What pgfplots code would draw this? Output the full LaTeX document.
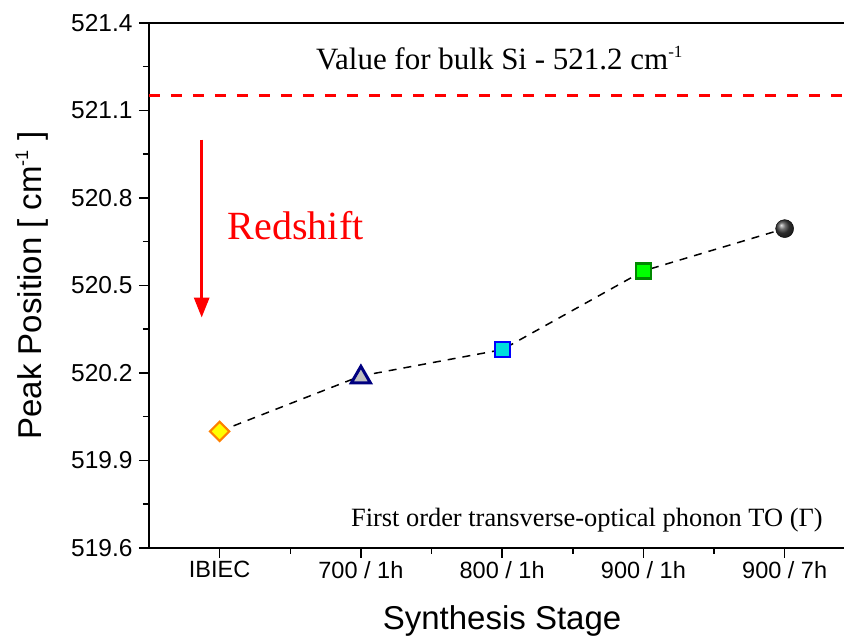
\documentclass[border=0pt]{standalone}
\usepackage{fontspec}
\setmainfont{Liberation Serif}
\setsansfont{Liberation Sans}
\usepackage{pgfplots}
\pgfplotsset{compat=1.18}
\usetikzlibrary{arrows.meta}
\newcommand\supm{\raisebox{0.8ex}{\scalebox{0.55}{-1}}}
\definecolor{mkorange}{HTML}{FF8000}
\definecolor{mkyellow}{HTML}{FFFF00}
\definecolor{mknavy}{HTML}{000080}
\definecolor{mkgray}{HTML}{C0C0C0}
\definecolor{mkblue}{HTML}{0000FF}
\definecolor{mkcyan}{HTML}{00DDDD}
\definecolor{mkgreen}{HTML}{008800}
\definecolor{mklime}{HTML}{00FF00}
\definecolor{mkball}{HTML}{404040}
\begin{document}
\begin{tikzpicture}
\begin{axis}[
  scale only axis, width=695pt, height=525pt,
  at={(0pt,0pt)}, anchor=south west,
  xmin=-0.5, xmax=4.42, ymin=519.6, ymax=521.4,
  axis y line*=left,
  xtick pos=bottom,
  xtick={0,1,2,3,4},
  xticklabels={IBIEC,700 / 1h,800 / 1h,900 / 1h,900 / 7h},
  minor xtick={0.5,1.5,2.5,3.5},
  ytick={519.6,519.9,520.2,520.5,520.8,521.1,521.4},
  minor ytick={519.75,520.05,520.35,520.65,520.95,521.25},
  yticklabel style={/pgf/number format/fixed,/pgf/number format/fixed zerofill,/pgf/number format/precision=1, xshift=-3pt, font=\sffamily\fontsize{24.5}{28}\selectfont},
  /pgf/number format/assume math mode=true,
  xticklabel style={font=\sffamily\fontsize{23.5}{27}\selectfont},
  tick label style={black},
  tick align=outside,
  major tick length=10pt, minor tick length=6pt,
  tick style={black, line width=1.5pt},
  axis line style={black, line width=1.5pt},
  xlabel={Synthesis Stage},
  ylabel={Peak Position [ cm\supm\ ]},
  xlabel style={font=\sffamily\fontsize{33}{38}\selectfont, at={(axis description cs:0.508,-0.156)}, anchor=base},
  ylabel style={font=\sffamily\fontsize{33}{38}\selectfont, at={(axis description cs:-0.154,0.5)}, anchor=base},
  clip=false,
]
% bulk Si reference
\addplot[red, line width=3pt, dash pattern=on 11pt off 11pt] coordinates {(-0.5,521.153) (4.42,521.153)};
% connecting line
\addplot[black, line width=1.5pt, dash pattern=on 8pt off 7pt] coordinates {
 (0,520.00) (1,520.19) (2,520.28) (3,520.55) (4,520.695)};
% markers
\addplot[only marks, mark=square*, mark size=6.8pt, mark options={rotate=45, draw=mkorange, fill=mkyellow, line width=2.2pt}] coordinates {(0,520.00)};
\addplot[only marks, mark=triangle*, mark size=11pt, mark options={draw=mknavy, fill=mkgray, line width=3pt}] coordinates {(1,520.185)};
\addplot[only marks, mark=square*, mark size=7.5pt, mark options={draw=mkblue, fill=mkcyan, line width=2.2pt}] coordinates {(2,520.28)};
\addplot[only marks, mark=square*, mark size=7.5pt, mark options={draw=mkgreen, fill=mklime, line width=2.2pt}] coordinates {(3,520.55)};
\addplot[only marks, mark=ball, mark size=9pt, mark options={ball color=mkball}] coordinates {(4,520.695)};
% annotations
\draw[red, line width=3pt, -{Triangle[length=20pt,width=15pt]}] (axis cs:-0.127,521.0) -- (axis cs:-0.127,520.39);
\node[red, font=\fontsize{40}{46}\selectfont, anchor=west, inner sep=0pt] at (axis cs:0.057,520.707) {Redshift};
\node[font=\fontsize{31}{36}\selectfont, anchor=center, inner sep=0pt] at (axis cs:1.98,521.28) {Value for bulk Si - 521.2 cm\supm};
\node[font=\fontsize{26.4}{30}\selectfont, anchor=east, inner sep=0pt] at (axis cs:4.27,519.696) {First order transverse-optical phonon TO (Γ)};
\end{axis}
\pgfresetboundingbox
\useasboundingbox (-149pt,-91pt) rectangle (695pt,548pt);
\end{tikzpicture}
\end{document}
